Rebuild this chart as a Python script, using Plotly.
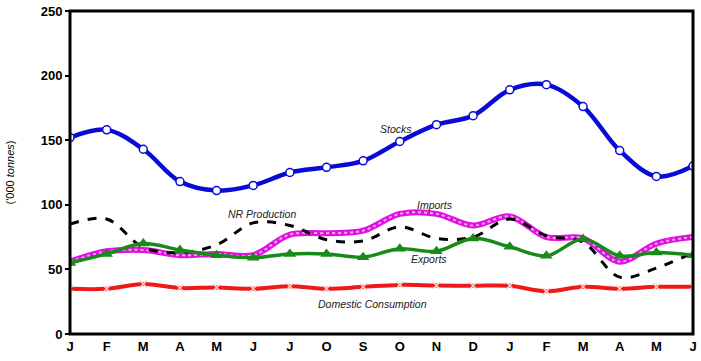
import plotly.graph_objects as go

months = ["J", "F", "M", "A", "M", "J", "J", "O", "S", "O", "N", "D", "J", "F", "M", "A", "M", "J"]
stocks = [152, 158, 143, 118, 111, 115, 125, 129, 134, 149, 162, 169, 189, 193, 176, 142, 122, 130]
imports = [56, 64, 65, 61, 62, 61, 77, 78, 80, 93, 93, 84, 91, 75, 74, 56, 70, 75]
nr_production = [85, 89, 67, 63, 69, 86, 84, 73, 72, 83, 74, 75, 89, 76, 71, 44, 51, 63]
exports = [55, 62, 70, 65, 61, 59, 62, 62, 59.5, 66, 64, 74, 67.5, 60.5, 73.5, 60.5, 63, 61]
domestic = [35, 35, 38.7, 35.6, 36, 35, 37, 35, 36.5, 38, 37.5, 37.3, 37.3, 33, 36.5, 35, 36.5, 36.5]

x = list(range(len(months)))

fig = go.Figure()
fig.add_trace(go.Scatter(x=x, y=imports, mode="lines", line=dict(color="#e010e0", width=6, shape="spline"), hoverinfo="skip"))
fig.add_trace(go.Scatter(x=x, y=imports, mode="lines", line=dict(color="#f6a8f6", width=2, shape="spline", dash="dot"), hoverinfo="skip"))
fig.add_trace(go.Scatter(x=x, y=nr_production, mode="lines", line=dict(color="black", width=3, shape="spline", dash="dash")))
fig.add_trace(go.Scatter(x=x, y=exports, mode="lines+markers", line=dict(color="#178a17", width=3.5, shape="spline"),
                         marker=dict(symbol="triangle-up", size=11, color="#178a17")))
fig.add_trace(go.Scatter(x=x, y=domestic, mode="lines+markers", line=dict(color="#ee1a1a", width=4, shape="spline"),
                         marker=dict(symbol="x-thin", size=7, color="#ee1a1a", line=dict(color="#ffd0d0", width=1.5))))
fig.add_trace(go.Scatter(x=x, y=stocks, mode="lines+markers", line=dict(color="#0a0ad8", width=4.5, shape="spline"),
                         marker=dict(symbol="circle", size=8, color="white", line=dict(color="#0a0ad8", width=1.5))))

ann_font = dict(family="Liberation Sans, Arial, sans-serif", size=10.5, color="#222")
labels = [
    ("<i>Stocks</i>", 8.9, 159),
    ("<i>Imports</i>", 9.95, 100),
    ("<i>NR Production</i>", 5.25, 93),
    ("<i>Exports</i>", 9.8, 58),
    ("<i>Domestic Consumption</i>", 8.25, 23),
]
for text, ax, ay in labels:
    fig.add_annotation(x=ax, y=ay, text=text, showarrow=False, font=ann_font)

fig.add_shape(type="rect", xref="paper", yref="paper", x0=0, x1=1, y0=0, y1=1,
              line=dict(color="black", width=3), layer="above")

fig.update_layout(
    width=701, height=361,
    margin=dict(l=70, r=8, t=11, b=27, autoexpand=False),
    paper_bgcolor="white", plot_bgcolor="white",
    showlegend=False,
    font=dict(family="Liberation Sans, Arial, sans-serif", color="black"),
)
fig.update_xaxes(
    range=[0, 17], tickmode="array", tickvals=x, ticktext=[f"<b>{m}</b>" for m in months],
    showgrid=False, zeroline=False, showline=False, automargin=False,
    ticks="", tickfont=dict(size=13), ticklabelstandoff=3,
)
fig.update_yaxes(
    range=[0, 250], tickvals=[0, 50, 100, 150, 200, 250], ticktext=[f"<b>{v}</b>" for v in [0, 50, 100, 150, 200, 250]],
    showgrid=False, zeroline=False, showline=False, automargin=False,
    ticks="outside", ticklen=4, tickwidth=1.5, tickcolor="black", tickfont=dict(size=13),
    title=dict(text="('000 <i>tonnes</i>)", font=dict(size=11), standoff=23),
)

fig.write_html("out.html", config={"displayModeBar": False},
               post_script="document.body.style.margin='0';document.body.style.overflow='hidden';")
